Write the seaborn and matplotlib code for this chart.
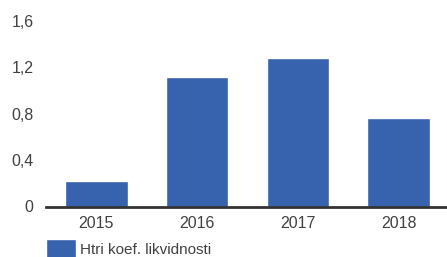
import matplotlib
matplotlib.use("Agg")
import matplotlib.pyplot as plt
import seaborn as sns
import pandas as pd

years = ["2015", "2016", "2017", "2018"]
values = [0.22, 1.12, 1.28, 0.76]
series_name = "Htri koef. likvidnosti"
yticks = [0, 0.4, 0.8, 1.2, 1.6]
ytick_labels = ["0", "0,4", "0,8", "1,2", "1,6"]

sns.set_theme(style="white")
plt.rcParams["font.family"] = ["Liberation Sans", "DejaVu Sans"]

df = pd.DataFrame({"year": years, "value": values, "series": series_name})

W, H = 447, 257
fig = plt.figure(figsize=(W / 100, H / 100), dpi=100)
left = 46 / W
bottom = (H - 206.5) / H
top = (H - 21) / H
ax = fig.add_axes([left, bottom, 1 - left, top - bottom])

bar_color = "#3762AD"
text_color = "#404040"

sns.barplot(data=df, x="year", y="value", hue="series", palette=[bar_color],
            width=0.62, ax=ax, saturation=1, legend=True)

ax.set_xlim(-0.5, 3.48)
ax.set_ylim(0, 1.6)
ax.set_yticks(yticks)
ax.set_yticklabels(ytick_labels)
ax.set_xlabel("")
ax.set_ylabel("")
for s in ["top", "right", "left"]:
    ax.spines[s].set_visible(False)
ax.spines["bottom"].set_color("#333333")
ax.spines["bottom"].set_linewidth(2)
ax.tick_params(axis="both", length=0, labelsize=11.5, colors=text_color)
ax.tick_params(axis="x", pad=7)
ax.tick_params(axis="y", pad=9)

handles, labels = ax.get_legend_handles_labels()
ax.get_legend().remove()
fig.legend(handles, labels, loc="upper left",
           bbox_to_anchor=(left, (H - 239.5) / H), frameon=False,
           borderpad=0, borderaxespad=0, handlelength=1.95, handleheight=1.45,
           handletextpad=0.3, fontsize=11, labelcolor=text_color)

fig.savefig("out.png", dpi=100)
